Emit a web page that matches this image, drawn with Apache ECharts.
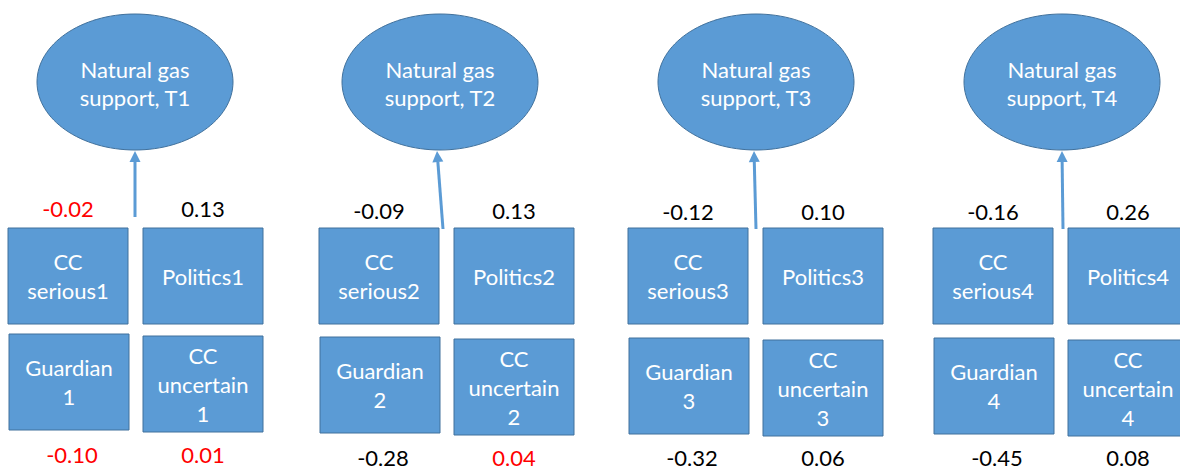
<!DOCTYPE html>
<html>
<head>
<meta charset="utf-8">
<script src="https://cdn.jsdelivr.net/npm/echarts@6/dist/echarts.min.js"></script>
<style>
html, body { margin: 0; padding: 0; background: #fff; }
#chart { width: 1180px; height: 471px; }
</style>
</head>
<body>
<div id="chart"></div>
<script>
// path coefficients per wave
const waves = ['T1', 'T2', 'T3', 'T4']
const seriousCoef = [-0.02, -0.09, -0.12, -0.16]
const politicsCoef = [0.13, 0.13, 0.10, 0.26]
const guardianCoef = [-0.10, -0.28, -0.32, -0.45]
const uncertainCoef = [0.01, 0.04, 0.06, 0.08]
// red = not significant
const seriousSig = [false, true, true, true]
const politicsSig = [true, true, true, true]
const guardianSig = [false, true, true, true]
const uncertainSig = [false, false, true, true]

// layout (pixels, in the hidden 1180 x 471 axes)
const panelLeft = [8, 319, 628, 933]
const ellipseX = [135, 440, 756, 1062]
const arrowBottomX = [135, 443, 756, 1063]
const arrowTopX = [135, 437, 754, 1062]
const arrowBottomY = [217, 229, 229, 229]
const lowerRowY = [334, 337, 338, 338]
const topNumY = [208, 210, 211, 211]
const bottomNumY = [454, 457, 457, 457]

const BLUE = '#5b9bd5'
const EDGE = '#41719c'
const FONT = 'Lato, "Noto Sans", sans-serif'

const chart = echarts.init(document.getElementById('chart'), null, { renderer: 'svg' })

const renderPanel = (params, api) => {
    const i = api.value(0)
    const left = panelLeft[i]
    const children = []

    const box = (x, y, w, h, label) => {
        const p = api.coord([x, y])
        const s = api.size([w, h])
        children.push({
            type: 'rect',
            shape: { x: p[0], y: p[1], width: s[0], height: s[1] },
            style: { fill: BLUE, stroke: EDGE, lineWidth: 1 }
        })
        const c = api.coord([x + w / 2, y + h / 2])
        children.push({
            type: 'text',
            style: {
                text: label, x: c[0], y: c[1], align: 'center', verticalAlign: 'middle',
                fill: '#fff', fontSize: 22, fontFamily: FONT, lineHeight: 29
            }
        })
    }
    const num = (x, y, v, sig) => {
        const c = api.coord([x, y])
        children.push({
            type: 'text',
            style: {
                text: v.toFixed(2), x: c[0], y: c[1], align: 'center', verticalAlign: 'middle',
                fill: sig ? '#000' : '#ff0000', fontSize: 22, fontFamily: FONT
            }
        })
    }

    // latent ellipse
    const ec = api.coord([ellipseX[i], 82])
    const er = api.size([98, 68])
    children.push({
        type: 'ellipse',
        shape: { cx: ec[0], cy: ec[1], rx: er[0], ry: er[1] },
        style: { fill: BLUE, stroke: EDGE, lineWidth: 1 }
    })
    children.push({
        type: 'text',
        style: {
            text: 'Natural gas\nsupport, ' + waves[i], x: ec[0], y: ec[1] + 1,
            align: 'center', verticalAlign: 'middle', fill: '#fff',
            fontSize: 22, fontFamily: FONT, lineHeight: 28
        }
    })

    // arrow into the ellipse
    const a0 = api.coord([arrowBottomX[i], arrowBottomY[i]])
    const a1 = api.coord([arrowTopX[i], 151])
    const dx = a1[0] - a0[0], dy = a1[1] - a0[1]
    const len = Math.sqrt(dx * dx + dy * dy)
    const ux = dx / len, uy = dy / len
    const hl = 11, hw = 5.5
    const bx = a1[0] - ux * hl, by = a1[1] - uy * hl
    children.push({
        type: 'line',
        shape: { x1: a0[0], y1: a0[1], x2: bx, y2: by },
        style: { stroke: BLUE, lineWidth: 3 }
    })
    children.push({
        type: 'polygon',
        shape: { points: [[a1[0], a1[1]], [bx - uy * hw, by + ux * hw], [bx + uy * hw, by - ux * hw]] },
        style: { fill: BLUE }
    })

    // observed indicators
    const low = lowerRowY[i]
    box(left, 228, 120, 96, 'CC\nserious' + (i + 1))
    box(left + 135, 228, 120, 96, 'Politics' + (i + 1))
    box(left + 1, low, 120, 96, 'Guardian\n' + (i + 1))
    box(left + 135, low + 2, 120, 96, 'CC\nuncertain\n' + (i + 1))

    num(left + 60, topNumY[i], seriousCoef[i], seriousSig[i])
    num(left + 195, topNumY[i], politicsCoef[i], politicsSig[i])
    num(left + 64, bottomNumY[i], guardianCoef[i], guardianSig[i])
    num(left + 195, bottomNumY[i], uncertainCoef[i], uncertainSig[i])

    return { type: 'group', children }
}

chart.setOption({
    animation: false,
    grid: { left: 0, right: 0, top: 0, bottom: 0 },
    xAxis: { type: 'value', min: 0, max: 1180, show: false },
    yAxis: { type: 'value', min: 0, max: 471, inverse: true, show: false },
    series: [{
        type: 'custom',
        clip: false,
        renderItem: renderPanel,
        data: waves.map((w, i) => [i])
    }]
})
</script>
</body>
</html>
